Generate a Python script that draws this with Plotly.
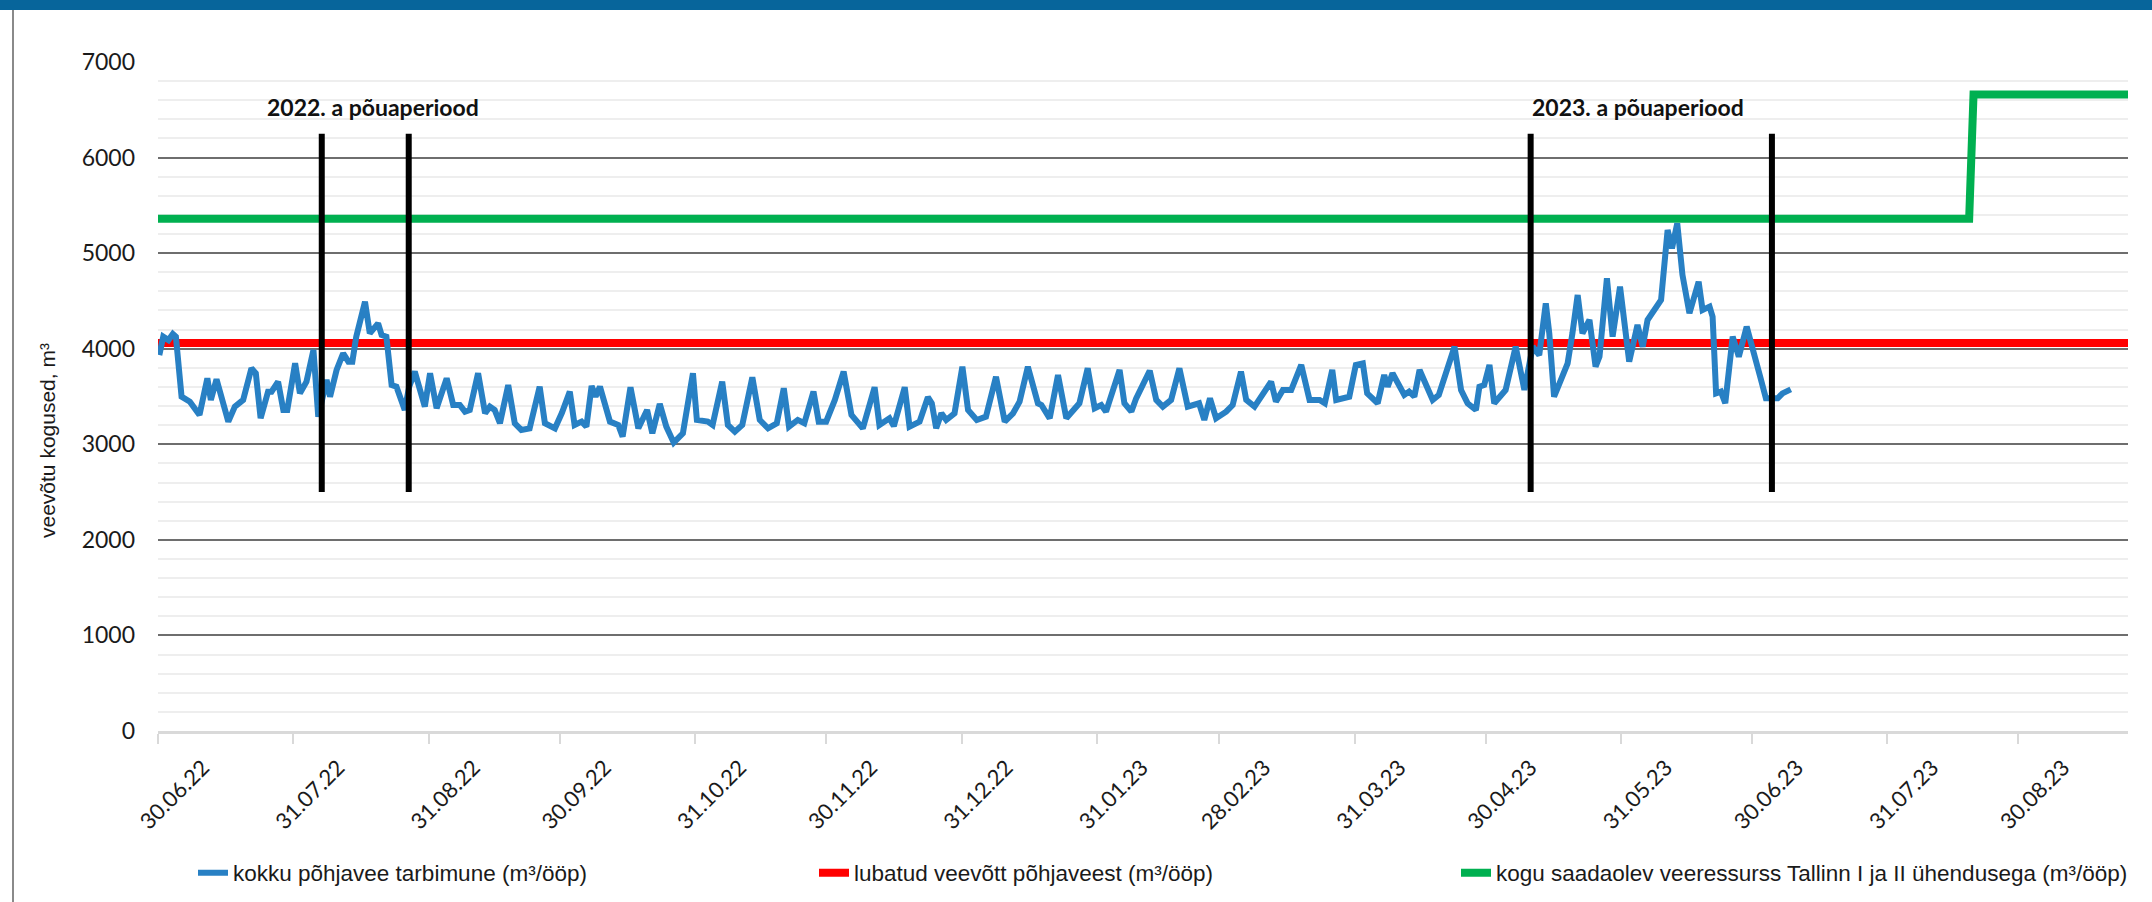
import pandas as pd
import plotly.graph_objects as go

# ---------------- data ----------------
start_date = "2022-06-30"

# daily groundwater consumption (vertices), offset in days from start_date
consumption_days = [
    0.3, 1.2, 2.4, 3.4, 4.1, 5.4, 7.3, 9.5, 11.3, 12.1,
    13.4, 16.1, 17.6, 19.5, 21.4, 22.4, 23.5, 25.2, 26.0, 27.5,
    28.7, 29.6, 31.4, 32.5, 34.0, 35.6, 36.7, 38.6, 39.4, 40.9,
    42.4, 43.6, 44.5, 45.4, 47.4, 48.5, 50.4, 51.2, 52.3, 53.5,
    54.6, 56.5, 57.5, 58.8, 61.1, 62.3, 63.8, 66.1, 67.6, 69.1,
    70.3, 71.4, 73.3, 74.9, 76.0, 77.1, 78.3, 80.2, 81.7, 83.2,
    85.1, 87.4, 88.6, 90.9, 92.5, 94.3, 95.4, 97.0, 98.1, 99.3,
    100.2, 101.2, 103.5, 105.4, 106.4, 108.2, 110.0, 112.0, 113.2, 114.9,
    116.4, 118.1, 120.2, 122.5, 123.4, 125.9, 127.0, 129.2, 130.5, 132.1,
    133.8, 136.1, 137.8, 139.7, 141.7, 143.3, 144.5, 146.5, 148.0, 150.1,
    151.3, 153.0, 155.0, 157.0, 158.8, 161.4, 164.1, 165.2, 167.5, 168.5,
    171.0, 172.1, 174.4, 176.3, 177.2, 178.2, 179.4, 180.5, 182.4, 184.2,
    185.5, 187.5, 189.6, 191.9, 193.9, 195.8, 197.3, 199.2, 201.5, 202.3,
    204.2, 206.1, 208.0, 211.0, 212.9, 214.5, 216.0, 217.1, 220.2, 221.3,
    222.9, 224.0, 227.1, 228.6, 230.1, 232.0, 233.9, 235.8, 238.4, 239.6,
    240.9, 242.3, 244.6, 246.1, 248.0, 249.2, 251.1, 253.0, 254.9, 256.0,
    257.6, 259.5, 261.8, 263.7, 266.0, 267.2, 268.9, 269.8, 272.8, 274.3,
    275.9, 276.9, 279.3, 280.8, 281.6, 282.7, 285.4, 286.5, 287.7, 288.9,
    291.9, 293.3, 296.9, 298.4, 299.9, 301.8, 302.6, 303.7, 304.9, 306.0,
    308.6, 310.9, 312.9, 314.8, 316.3, 317.8, 318.6, 319.7, 322.8, 323.9,
    325.1, 326.2, 327.8, 329.2, 330.1, 331.8, 333.1, 334.8, 336.9, 338.8,
    340.0, 341.1, 343.0, 344.2, 345.7, 346.7, 347.9, 349.1, 350.7, 352.8,
    353.7, 355.3, 356.0, 356.8, 357.9, 358.9, 360.6, 362.0, 363.8, 365.5,
    366.3, 366.9, 368.2, 370.9, 372.0, 373.9,
]
consumption_values = [
    3934, 4126, 4090, 4154, 4126, 3498, 3446, 3307, 3690, 3464,
    3680, 3237, 3394, 3464, 3795, 3743, 3272, 3551, 3551, 3655,
    3359, 3359, 3848, 3533, 3655, 3987, 3289, 3673, 3498, 3778,
    3952, 3864, 3864, 4126, 4492, 4161, 4266, 4144, 4126, 3620,
    3603, 3359, 3600, 3760, 3394, 3743, 3377, 3690, 3411, 3411,
    3341, 3359, 3743, 3324, 3394, 3359, 3220, 3620, 3220, 3150,
    3167, 3603, 3220, 3167, 3330, 3551, 3202, 3237, 3185, 3610,
    3500, 3603, 3237, 3202, 3080, 3597, 3167, 3359, 3115, 3422,
    3185, 3017, 3115, 3743, 3255, 3237, 3202, 3655, 3202, 3132,
    3202, 3700, 3255, 3167, 3220, 3586, 3185, 3255, 3220, 3551,
    3237, 3237, 3464, 3760, 3307, 3167, 3597, 3202, 3272, 3190,
    3597, 3185, 3237, 3492, 3429, 3167, 3324, 3254, 3324, 3812,
    3359, 3254, 3289, 3707, 3237, 3324, 3446, 3812, 3429, 3411,
    3272, 3725, 3272, 3429, 3795, 3377, 3411, 3341, 3778, 3429,
    3342, 3481, 3770, 3464, 3394, 3464, 3795, 3394, 3429, 3255,
    3481, 3272, 3341, 3411, 3760, 3464, 3394, 3533, 3655, 3446,
    3568, 3568, 3830, 3464, 3464, 3429, 3778, 3464, 3498, 3830,
    3847, 3533, 3429, 3725, 3603, 3743, 3516, 3551, 3498, 3778,
    3464, 3516, 4021, 3568, 3429, 3359, 3603, 3620, 3830, 3429,
    3568, 4021, 3568, 4021, 3934, 4475, 4161, 3498, 3847, 4161,
    4562, 4161, 4301, 3812, 3917, 4737, 4126, 4649, 3864, 4248,
    4021, 4301, 4423, 4510, 5243, 5051, 5312, 4772, 4371, 4701,
    4405, 4440, 4335, 3533, 3551, 3430, 4126, 3917, 4231, 3917,
    3760, 3707, 3481, 3481, 3533, 3575,
]

# permitted groundwater abstraction
permit_dates = ["2022-06-30", "2023-09-24 03:00"]
permit_values = [4060, 4060]

# total available resource with Tallinn I and II connection
resource_dates = ["2022-06-30", "2023-08-18 18:00", "2023-08-19 18:00", "2023-09-24 03:00"]
resource_values = [5360, 5360, 6660, 6660]

# drought period boundaries
drought_bounds = ["2022-08-06 12:00", "2022-08-26 10:00", "2023-05-10 08:00", "2023-07-04 14:00"]
drought_line_span = [2500, 6250]
drought_labels = ["2022. a põuaperiood", "2023. a põuaperiood"]
drought_label_dates = ["2022-08-18 05:00", "2023-06-04"]
drought_label_value = 6530

tick_dates = ["2022-06-30", "2022-07-31", "2022-08-31", "2022-09-30", "2022-10-31",
              "2022-11-30", "2022-12-31", "2023-01-31", "2023-02-28", "2023-03-31",
              "2023-04-30", "2023-05-31", "2023-06-30", "2023-07-31", "2023-08-30"]
tick_labels = ["30.06.22", "31.07.22", "31.08.22", "30.09.22", "31.10.22",
               "30.11.22", "31.12.22", "31.01.23", "28.02.23", "31.03.23",
               "30.04.23", "31.05.23", "30.06.23", "31.07.23", "30.08.23"]
x_range = ["2022-06-30", "2023-09-24 03:00"]

names = ["kokku põhjavee tarbimune (m³/ööp)",
         "lubatud veevõtt põhjaveest (m³/ööp)",
         "kogu saadaolev veeressurss Tallinn I ja II ühendusega (m³/ööp)"]
y_title = "veevõtu kogused, m³"

# ---------------- figure ----------------
consumption_x = pd.Timestamp(start_date) + pd.to_timedelta(consumption_days, unit="D")

GEO = "Lato, 'Open Sans', sans-serif"
NARROW = "'Liberation Sans', Arial, sans-serif"

fig = go.Figure()
fig.add_trace(go.Scatter(x=resource_dates, y=resource_values, mode="lines", name=names[2],
                         line=dict(color="#00b050", width=8), legend="legend3"))
fig.add_trace(go.Scatter(x=permit_dates, y=permit_values, mode="lines", name=names[1],
                         line=dict(color="#ff0000", width=8), legend="legend2"))
fig.add_trace(go.Scatter(x=consumption_x, y=consumption_values, mode="lines", name=names[0],
                         line=dict(color="#2880c4", width=6), legend="legend"))

shapes = []
for d in drought_bounds:
    shapes.append(dict(type="line", xref="x", yref="y", x0=d, x1=d,
                       y0=drought_line_span[0], y1=drought_line_span[1],
                       line=dict(color="black", width=6), layer="above"))

W, H = 2152, 902
ML, MR, MT, MB = 158, 24, 62, 171
PW, PH = W - ML - MR, H - MT - MB

def px_to_paper_x(px):
    return (px - ML) / PW

def px_to_paper_y(py):
    return (H - MB - py) / PH

# header bar and left frame
shapes.append(dict(type="rect", xref="paper", yref="paper",
                   x0=px_to_paper_x(0), x1=px_to_paper_x(W), y0=px_to_paper_y(10), y1=px_to_paper_y(0),
                   fillcolor="#07659b", line=dict(width=0), layer="above"))
shapes.append(dict(type="line", xref="paper", yref="paper",
                   x0=px_to_paper_x(13), x1=px_to_paper_x(13), y0=px_to_paper_y(H), y1=px_to_paper_y(10),
                   line=dict(color="#8a8a8a", width=2), layer="above"))

annotations = []
for txt, d in zip(drought_labels, drought_label_dates):
    annotations.append(dict(x=d, y=drought_label_value, xref="x", yref="y", text="<b>" + txt + "</b>",
                            showarrow=False, xanchor="center", yanchor="middle",
                            font=dict(family=GEO, size=23, color="#111")))
annotations.append(dict(x=px_to_paper_x(48), y=px_to_paper_y(441), xref="paper", yref="paper",
                        text=y_title, textangle=-90, showarrow=False, xanchor="center", yanchor="middle",
                        font=dict(family=NARROW, size=21, color="#1a1a1a")))

legend_common = dict(orientation="h", yanchor="middle", y=px_to_paper_y(873), xanchor="left",
                     font=dict(family=NARROW, size=22.5, color="#1a1a1a"),
                     bgcolor="rgba(0,0,0,0)", borderwidth=0)

fig.update_layout(
    width=W, height=H, autosize=False,
    margin=dict(l=ML, r=MR, t=MT, b=MB, pad=0, autoexpand=False),
    paper_bgcolor="white", plot_bgcolor="white",
    showlegend=True,
    legend=dict(legend_common, x=px_to_paper_x(193)),
    legend2=dict(legend_common, x=px_to_paper_x(814)),
    legend3=dict(legend_common, x=px_to_paper_x(1456)),
    shapes=shapes, annotations=annotations,
    xaxis=dict(type="date", range=x_range, tickmode="array", tickvals=tick_dates, ticktext=tick_labels,
               tickangle=-45, tickfont=dict(family=GEO, size=22, color="#1a1a1a"),
               showgrid=False, zeroline=False,
               showline=True, linecolor="#d9d9d9", linewidth=3,
               ticks="outside", ticklen=10, tickwidth=2, tickcolor="#d9d9d9",
               ticklabelshift=45, ticklabelstandoff=2),
    yaxis=dict(range=[0, 7000], dtick=1000, tick0=0, tickfont=dict(family=GEO, size=23, color="#1a1a1a"),
               showgrid=True, gridcolor="#6e6e6e", gridwidth=2, zeroline=False,
               minor=dict(dtick=200, showgrid=True, gridcolor="#eeeeee", gridwidth=2),
               ticks="", ticklabelstandoff=22, showline=False),
)

fig.write_html("out.html", config={"displayModeBar": False},
               post_script="document.body.style.margin='0';")
